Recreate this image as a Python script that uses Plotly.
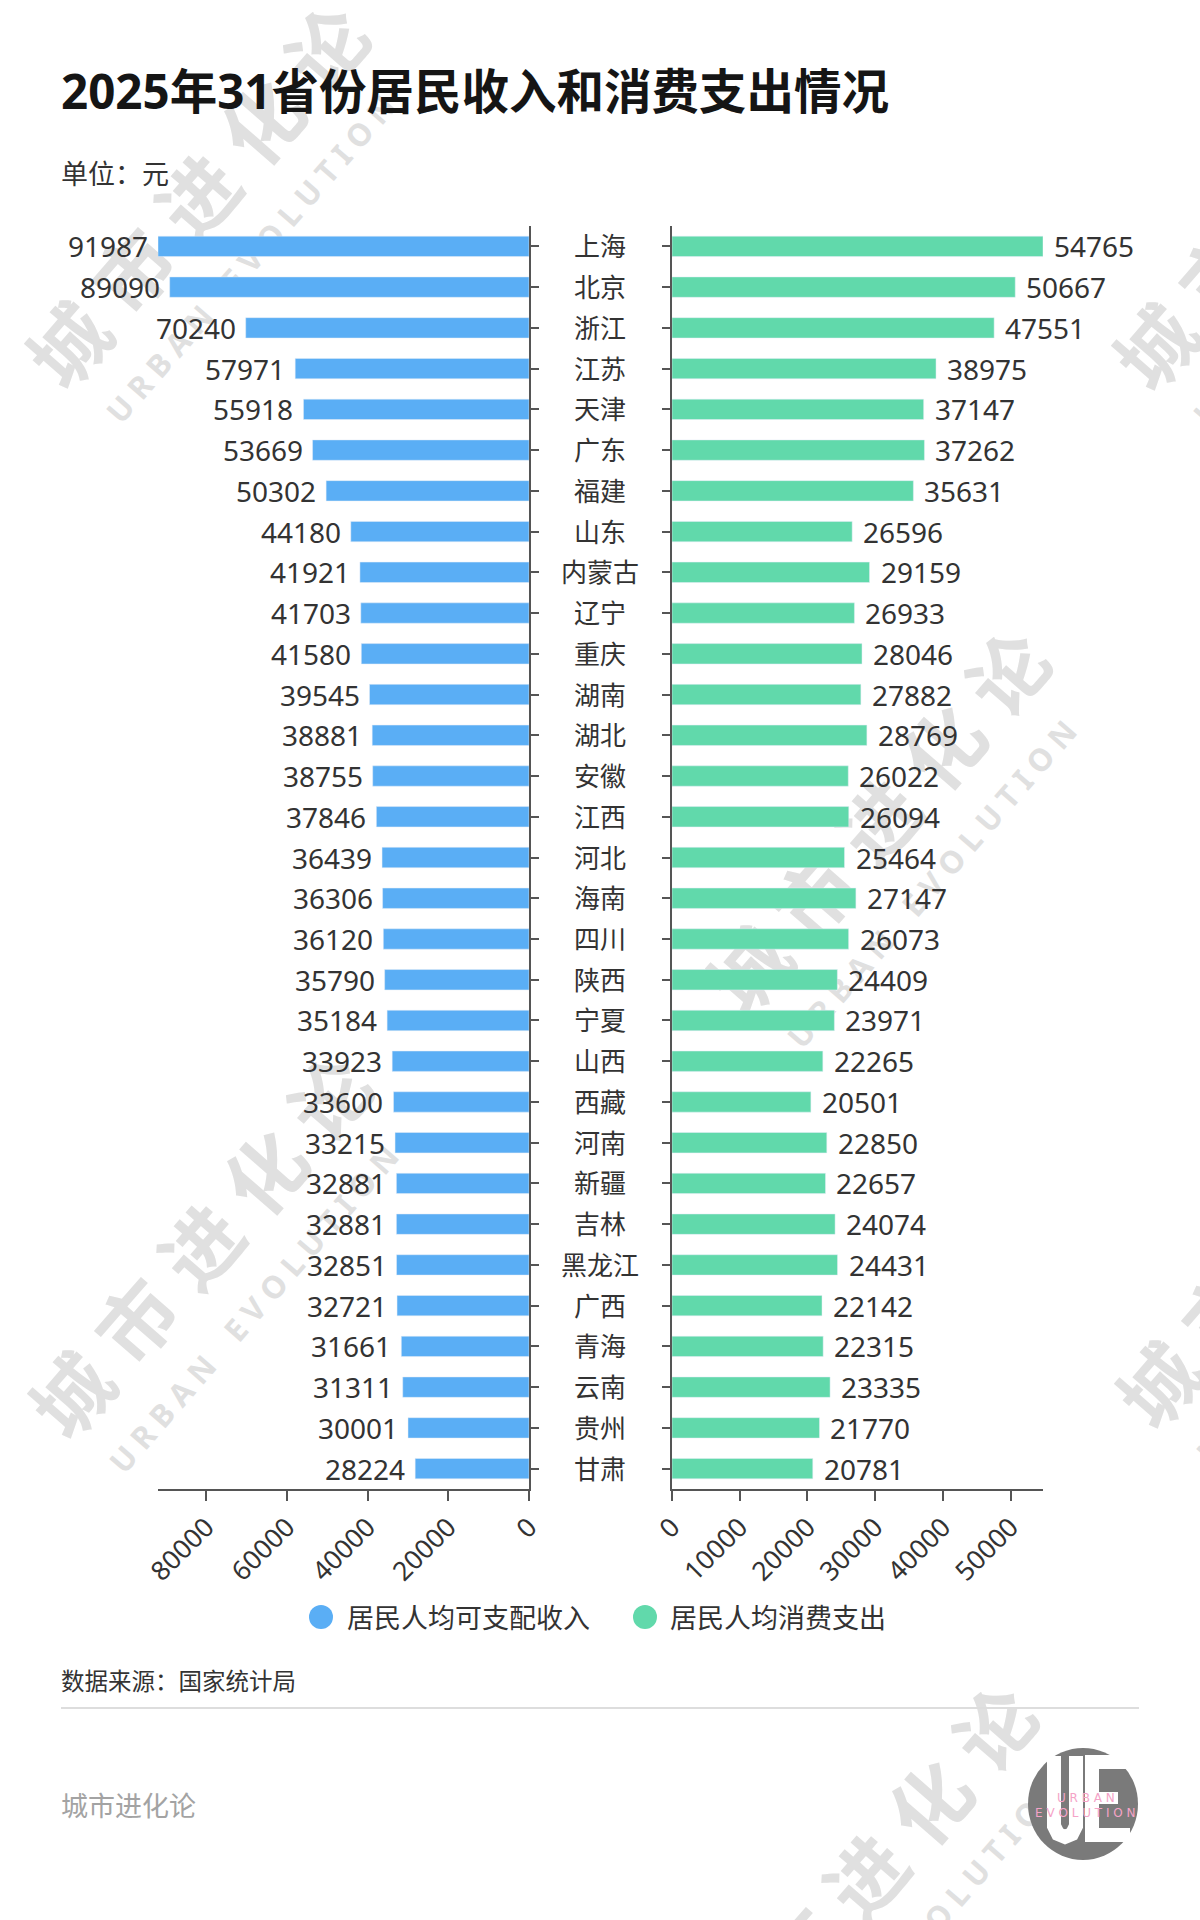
import plotly.graph_objects as go

W, H = 1200, 1920

provinces = ["上海", "北京", "浙江", "江苏", "天津", "广东", "福建", "山东", "内蒙古", "辽宁",
             "重庆", "湖南", "湖北", "安徽", "江西", "河北", "海南", "四川", "陕西", "宁夏",
             "山西", "西藏", "河南", "新疆", "吉林", "黑龙江", "广西", "青海", "云南", "贵州", "甘肃"]
income = [91987, 89090, 70240, 57971, 55918, 53669, 50302, 44180, 41921, 41703,
          41580, 39545, 38881, 38755, 37846, 36439, 36306, 36120, 35790, 35184,
          33923, 33600, 33215, 32881, 32881, 32851, 32721, 31661, 31311, 30001, 28224]
consumption = [54765, 50667, 47551, 38975, 37147, 37262, 35631, 26596, 29159, 26933,
               28046, 27882, 28769, 26022, 26094, 25464, 27147, 26073, 24409, 23971,
               22265, 20501, 22850, 22657, 24074, 24431, 22142, 22315, 23335, 21770, 20781]
income_ticks = [0, 20000, 40000, 60000, 80000]
consumption_ticks = [0, 10000, 20000, 30000, 40000, 50000]

title = "2025年31省份居民收入和消费支出情况"
unit = "单位：元"
source = "数据来源：国家统计局"
brand = "城市进化论"
series_names = ["居民人均可支配收入", "居民人均消费支出"]

BLUE = "#5aaef5"
GREEN = "#61d9ab"
TXT = "#333333"
AX = "#555555"
FONT = "Noto Sans, Noto Sans CJK SC, sans-serif"


def px(x):
    return x / W


def py(y):
    return 1 - y / H


fig = go.Figure()
fig.add_trace(go.Bar(x=income, y=provinces, orientation="h", marker_color=BLUE,
                     width=0.5, xaxis="x", yaxis="y", name=series_names[0],
                     showlegend=False, hoverinfo="x+y"))
fig.add_trace(go.Bar(x=consumption, y=provinces, orientation="h", marker_color=GREEN,
                     width=0.5, xaxis="x2", yaxis="y2", name=series_names[1],
                     showlegend=False, hoverinfo="x+y"))

ydom = [py(1489), py(226)]
cat_axis = dict(type="category", categoryorder="array", categoryarray=provinces,
                range=[len(provinces) - 0.5, -0.5], domain=ydom, showticklabels=False,
                showline=True, linecolor=AX, linewidth=2, ticks="outside", ticklen=8,
                tickcolor=AX, tickwidth=1.5, showgrid=False, zeroline=False, fixedrange=True)
val_axis = dict(showline=True, linecolor=AX, linewidth=2, ticks="outside", ticklen=10,
                tickcolor=AX, tickwidth=1.5, showgrid=False, zeroline=False, tickangle=-45,
                tickfont=dict(size=26.5, color=TXT, family=FONT), fixedrange=True)

fig.update_layout(
    width=W, height=H,
    margin=dict(l=0, r=0, t=0, b=0, autoexpand=False),
    paper_bgcolor="white", plot_bgcolor="rgba(0,0,0,0)",
    font=dict(family=FONT, color=TXT, size=26),
    showlegend=False,
    xaxis=dict(val_axis, domain=[px(158), px(529)], range=[max(income), 0],
               tickvals=income_ticks, ticktext=[str(v) for v in income_ticks], anchor="y"),
    yaxis=dict(cat_axis, anchor="x", side="right"),
    xaxis2=dict(val_axis, domain=[px(672), px(1043)], range=[0, max(consumption)],
                tickvals=consumption_ticks, ticktext=[str(v) for v in consumption_ticks],
                anchor="y2"),
    yaxis2=dict(cat_axis, anchor="x2", side="left"),
)

ann = []
shapes = []

# category labels in the centre
for p in provinces:
    ann.append(dict(x=0.5, xref="paper", y=p, yref="y", text=p, showarrow=False,
                    xanchor="center", yanchor="middle", font=dict(size=26, color=TXT)))
# value labels
for p, v in zip(provinces, income):
    ann.append(dict(x=v, xref="x", y=p, yref="y", text=str(v), showarrow=False,
                    xanchor="right", yanchor="middle", xshift=-8,
                    font=dict(size=28, color=TXT)))
for p, v in zip(provinces, consumption):
    ann.append(dict(x=v, xref="x2", y=p, yref="y2", text=str(v), showarrow=False,
                    xanchor="left", yanchor="middle", xshift=9,
                    font=dict(size=28, color=TXT)))

# title, unit, source, brand
ann.append(dict(x=px(59), y=py(91), xref="paper", yref="paper", text="<b>" + title + "</b>",
                showarrow=False, xanchor="left", yanchor="middle",
                font=dict(size=47.5, color="#151515")))
ann.append(dict(x=px(59), y=py(174), xref="paper", yref="paper", text=unit,
                showarrow=False, xanchor="left", yanchor="middle",
                font=dict(size=27, color=TXT)))
ann.append(dict(x=px(59), y=py(1681), xref="paper", yref="paper", text=source,
                showarrow=False, xanchor="left", yanchor="middle",
                font=dict(size=23.5, color=TXT)))
ann.append(dict(x=px(59), y=py(1805), xref="paper", yref="paper", text=brand,
                showarrow=False, xanchor="left", yanchor="middle",
                font=dict(size=27, color="#a3a3a3")))

# legend (manual, circular markers)
for (cx, tx, name, col) in [(321, 345, series_names[0], BLUE), (645, 668, series_names[1], GREEN)]:
    shapes.append(dict(type="circle", xref="paper", yref="paper",
                       x0=px(cx - 12), x1=px(cx + 12), y0=py(1617 + 12), y1=py(1617 - 12),
                       fillcolor=col, line=dict(width=0)))
    ann.append(dict(x=px(tx), y=py(1617), xref="paper", yref="paper", text=name,
                    showarrow=False, xanchor="left", yanchor="middle",
                    font=dict(size=27, color=TXT)))

# separator
shapes.append(dict(type="line", xref="paper", yref="paper", x0=px(61), x1=px(1139),
                   y0=py(1708), y1=py(1708), line=dict(color="#dddddd", width=2)))

# watermarks (behind the bars)
wm_cn = "城 市 进 化 论"
wm_en = "U R B A N\u2002\u2002E V O L U T I O N"
for (cx, cy) in [(202, 200), (1289, 202), (883, 825), (205, 1250), (1292, 1240), (870, 1880)]:
    for (dx, dy, txt, size) in [(0, 0, wm_cn, 78), (50, 60, wm_en, 31)]:
        x, y = cx + dx, cy + dy
        shapes.append(dict(type="rect", xref="paper", yref="paper", layer="below",
                           x0=px(x - 2), x1=px(x + 2), y0=py(y + 2), y1=py(y - 2),
                           line=dict(width=0), fillcolor="rgba(0,0,0,0)",
                           label=dict(text="<b>" + txt + "</b>", textangle=-49,
                                      textposition="middle center",
                                      font=dict(size=size, color="#e0e0e0", family=FONT))))

# logo
shapes.append(dict(type="circle", xref="paper", yref="paper",
                   x0=px(1028), x1=px(1138), y0=py(1860), y1=py(1748),
                   fillcolor="#7a7a7a", line=dict(width=0)))


def pth(points):
    return "M " + " L ".join(f"{px(a):.5f},{py(b):.5f}" for a, b in points)


shapes.append(dict(type="path", xref="paper", yref="paper",
                   path=pth([(1054, 1756), (1054, 1826), (1058, 1834), (1065, 1837),
                             (1072, 1834), (1076, 1826), (1076, 1756)]),
                   line=dict(color="white", width=14)))
for (a, b, c, d) in [(1085, 1755, 1099, 1842), (1085, 1755, 1130, 1769),
                     (1085, 1828, 1130, 1842), (1085, 1792, 1118, 1804)]:
    shapes.append(dict(type="rect", xref="paper", yref="paper",
                       x0=px(a), x1=px(c), y0=py(d), y1=py(b),
                       fillcolor="white", line=dict(width=0)))
ann.append(dict(x=px(1086), y=py(1798), xref="paper", yref="paper", text="U R B A N",
                showarrow=False, xanchor="center", yanchor="middle",
                font=dict(size=12, color="#f5a3c7", family="DejaVu Sans")))
ann.append(dict(x=px(1085), y=py(1813), xref="paper", yref="paper", text="E V O L U T I O N",
                showarrow=False, xanchor="center", yanchor="middle",
                font=dict(size=12, color="#f5a3c7", family="DejaVu Sans")))

fig.update_layout(annotations=ann, shapes=shapes)
fig.write_html("out.html", config={"displayModeBar": False},
               post_script="document.body.style.margin='0';")
